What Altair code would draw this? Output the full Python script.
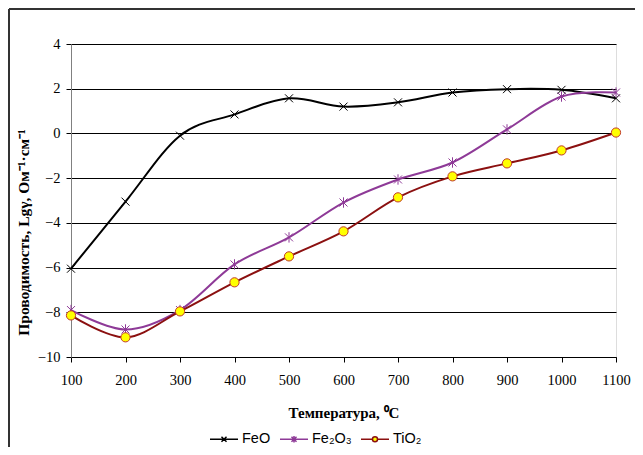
import altair as alt
import pandas as pd

temps = [100, 200, 300, 400, 500, 600, 700, 800, 900, 1000, 1100]
feo = [-6.05, -3.05, -0.1, 0.85, 1.57, 1.2, 1.39, 1.83, 1.98, 1.95, 1.57]
fe2o3 = [-7.9, -8.77, -7.9, -5.86, -4.65, -3.09, -2.06, -1.3, 0.18, 1.65, 1.83]
tio2 = [-8.14, -9.12, -7.96, -6.66, -5.5, -4.38, -2.86, -1.92, -1.34, -0.76, 0.04]

series_names = ["FeO", "Fe₂O₃", "TiO₂"]
line_colors = ["#000000", "#8E3A97", "#8B1010"]
marker_fill = ["transparent", "transparent", "#FFFF00"]
y_ticks = [-10, -8, -6, -4, -2, 0, 2, 4]

rows = []
for name, vals in zip(series_names, [feo, fe2o3, tio2]):
    for t, v in zip(temps, vals):
        rows.append({"t": t, "v": v, "series": name})
df = pd.DataFrame(rows)

x_scale = alt.Scale(domain=[100, 1100], nice=False, zero=False)
y_scale = alt.Scale(domain=[-10, 4], nice=False, zero=False)
stroke_scale = alt.Scale(domain=series_names, range=line_colors)
fill_scale = alt.Scale(domain=series_names, range=marker_fill)

x_enc = alt.X("t:Q", scale=x_scale,
              axis=alt.Axis(values=temps, format="d", title="Температура, ⁰C", grid=False,
                            tickSize=5, labelPadding=11, labelFlush=False, labelOverlap=False,
                            labelFont="Liberation Serif", labelFontSize=14.5, labelColor="#000",
                            titleFont="Liberation Serif", titleFontSize=15, titleFontWeight="bold",
                            titleColor="#000", titleY=55, titleBaseline="middle",
                            domainColor="#000", tickColor="#000"))
y_enc = alt.Y("v:Q", scale=y_scale,
              axis=alt.Axis(values=y_ticks, title="Проводимость, Lgγ, Ом⁻¹·см⁻¹",
                            grid=True, gridColor="#000", gridWidth=1, tickSize=5,
                            labelPadding=6, labelFont="Liberation Serif", labelFontSize=14.5,
                            labelColor="#000", titleFont="Liberation Serif", titleFontSize=15.5,
                            titleFontWeight="bold", titleColor="#000", titleX=-48, titleY=188,
                            titleAngle=270, titleAlign="center", titleBaseline="middle",
                            domainColor="#808080", tickColor="#000"))

base = alt.Chart(df)

line_layers = []
for name, col in zip(series_names, line_colors):
    line_layers.append(
        base.transform_filter(alt.datum.series == name)
        .mark_line(interpolate="cardinal", strokeWidth=2, stroke=col)
        .encode(x=x_enc, y=y_enc)
    )

x_path = "M-1,-1L1,1M-1,1L1,-1"
ast_path = "M-1,-1L1,1M-1,1L1,-1M0,-1.3L0,1.3"

pts_feo = base.transform_filter(alt.datum.series == series_names[0]).mark_point(
    shape=x_path, size=64, stroke="#000000", strokeWidth=1, opacity=1, filled=False
).encode(x="t:Q", y="v:Q")
pts_fe2o3 = base.transform_filter(alt.datum.series == series_names[1]).mark_point(
    shape=ast_path, size=64, stroke="#8E3A97", strokeWidth=1, opacity=1, filled=False
).encode(x="t:Q", y="v:Q")
pts_tio2 = base.transform_filter(alt.datum.series == series_names[2]).mark_point(
    shape="circle", size=85, stroke="#C0392B", fill="#FFFF00", strokeWidth=1,
    opacity=1, filled=True
).encode(x="t:Q", y="v:Q")

leg_paths = [
    "M-1,0H1M-0.18,-0.18L0.18,0.18M-0.18,0.18L0.18,-0.18",
    "M-1,0H1M-0.18,-0.18L0.18,0.18M-0.18,0.18L0.18,-0.18M0,-0.24L0,0.24",
    "M-1,0H-0.18M0.18,0H1M-0.18,0A0.18,0.18 0 1,0 0.18,0A0.18,0.18 0 1,0 -0.18,0Z",
]
leg_layer = base.mark_point(opacity=0, size=784).encode(
    x="t:Q", y="v:Q",
    shape=alt.Shape("series:N", scale=alt.Scale(domain=series_names, range=leg_paths),
                    legend=alt.Legend(title=None, orient="none", direction="horizontal",
                                      legendX=138, legendY=380, symbolOpacity=1,
                                      symbolStrokeWidth=1.5, symbolSize=784,
                                      labelFont="Liberation Sans", labelFontSize=14.5,
                                      labelColor="#000", labelOffset=3, columnPadding=6)),
    stroke=alt.Stroke("series:N", scale=stroke_scale),
    fill=alt.Fill("series:N", scale=fill_scale),
)

frame_left = alt.Chart(pd.DataFrame({"a": [0]})).mark_rule(color="#333", strokeWidth=2).encode(
    x=alt.value(-62), y=alt.value(-35), y2=alt.value(420))
frame_top = alt.Chart(pd.DataFrame({"a": [0]})).mark_rule(color="#333", strokeWidth=2).encode(
    x=alt.value(-62), x2=alt.value(580), y=alt.value(-35))

chart = alt.layer(*line_layers, pts_feo, pts_fe2o3, pts_tio2, leg_layer, frame_left, frame_top).properties(
    width=545, height=313,
    autosize=alt.AutoSizeParams(type="none"),
    padding={"left": 63, "top": 36, "right": 19, "bottom": 90},
).configure_view(stroke="#808080", strokeWidth=1).configure(background="white")

chart.save("out.html", embed_options={"renderer": "svg", "actions": False})
